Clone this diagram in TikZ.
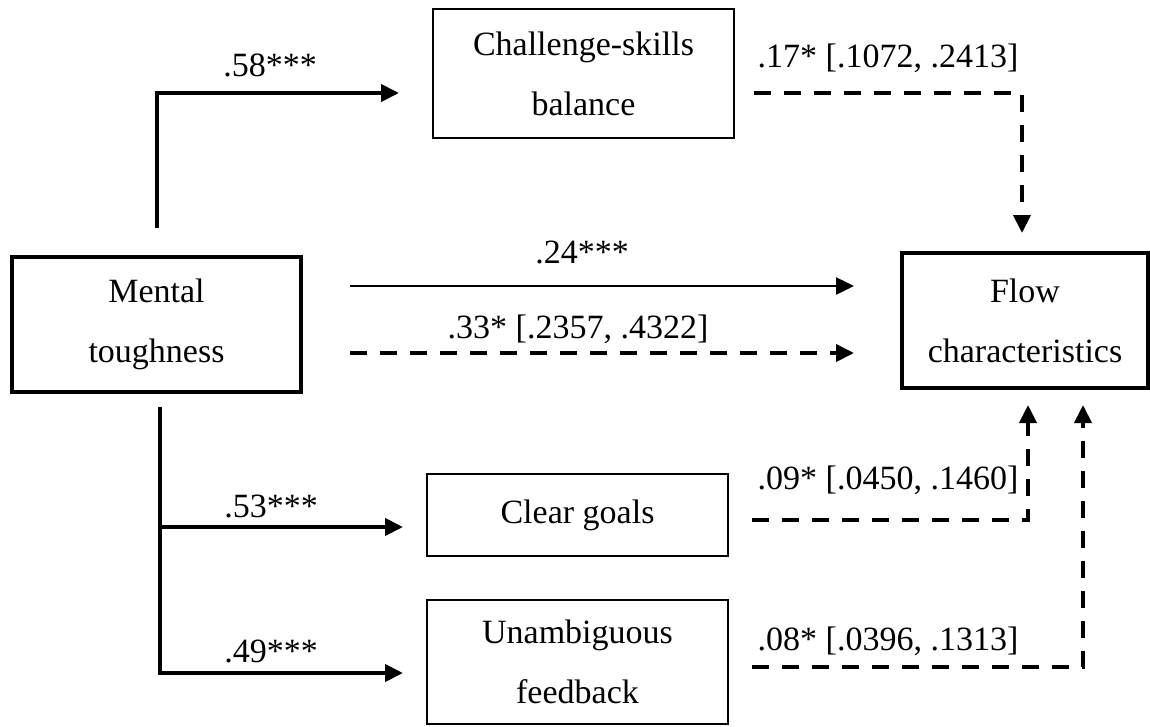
\documentclass[tikz,border=0pt]{standalone}
\usepackage{fontspec}
\setmainfont{Liberation Serif}
\usetikzlibrary{arrows.meta}
\begin{document}
\begin{tikzpicture}[x=1pt,y=-1pt,
  txt/.style={font=\fontsize{34}{60}\selectfont},
  box/.style={draw, line width=2.7pt, align=center, inner sep=0pt, outer sep=0pt, txt},
  thickbox/.style={box, line width=4.2pt},
  arr/.style={line width=4pt, -{Triangle[length=18pt,width=17pt]}},
  thinarr/.style={line width=2.5pt, -{Triangle[length=18pt,width=17pt]}},
  darr/.style={arr, dash pattern=on 17pt off 13pt},
  lab/.style={txt, anchor=base, inner sep=0pt}
]
\useasboundingbox (0,0) rectangle (1150,726);

% boxes
\node[thickbox, minimum width=289pt, minimum height=135pt] (mental) at (156.5,324.5) {Mental\\toughness};
\node[box, minimum width=301pt, minimum height=129pt] (challenge) at (583.5,73.5) {Challenge-skills\\balance};
\node[thickbox, minimum width=246pt, minimum height=135pt] (flow) at (1025,320.5) {Flow\\characteristics};
\node[box, minimum width=301pt, minimum height=82pt] (clear) at (577.5,515) {Clear goals};
\node[box, minimum width=301pt, minimum height=124pt] (unamb) at (577.5,662) {Unambiguous\\feedback};

% connectors
\draw[arr, shorten <=29pt, shorten >=34pt] (mental.north) |- ([yshift=-19.5pt]challenge.west);
\draw[thinarr, shorten <=49pt, shorten >=48pt] ([yshift=38.5pt]mental.east) -- ([yshift=34.5pt]flow.west);
\draw[darr, shorten <=49pt, shorten >=48pt] ([yshift=-28.5pt]mental.east) -- ([yshift=-32.5pt]flow.west);
\draw[arr, shorten <=15pt, shorten >=24pt] ([xshift=3.5pt]mental.south) |- ([yshift=-12pt]clear.west);
\draw[arr, shorten <=15pt, shorten >=24pt] ([xshift=3.5pt]mental.south) |- ([yshift=-11pt]unamb.west);
\draw[darr, shorten <=20pt, shorten >=20pt] ([yshift=-19.5pt]challenge.east) -| ([xshift=-3pt]flow.north);
\draw[darr, shorten <=24pt, shorten >=17pt] ([yshift=-5pt]clear.east) -| ([xshift=3pt]flow.south);
\draw[darr, shorten <=24pt, shorten >=17pt] ([yshift=-5pt]unamb.east) -| ([xshift=58pt]flow.south);

% labels
\node[lab] (l58) at (270,76) {.58***};
\node[lab] (l17) at (888,67) {.17* [.1072, .2413]};
\node[lab] (l24) at (582,263) {.24***};
\node[lab] (l33) at (578,338) {.33* [.2357, .4322]};
\node[lab] (l53) at (271,517) {.53***};
\node[lab] (l49) at (271,662) {.49***};
\node[lab] (l09) at (888,489) {.09* [.0450, .1460]};
\node[lab] (l08) at (888,650) {.08* [.0396, .1313]};
\end{tikzpicture}
\end{document}
